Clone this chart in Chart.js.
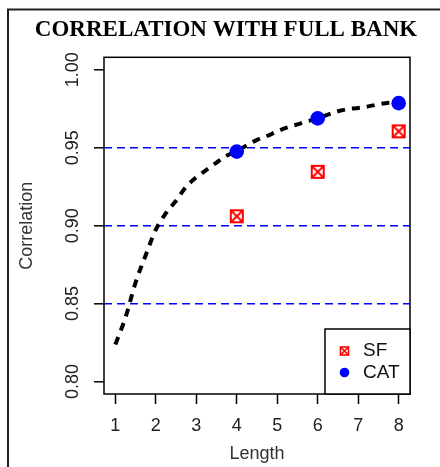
<!DOCTYPE html>
<html>
<head>
<meta charset="utf-8">
<script src="https://cdn.jsdelivr.net/npm/chart.js@4/dist/chart.umd.min.js"></script>
<style>
  html, body { margin:0; padding:0; background:#fff; }
  #wrap { width:440px; height:467px; position:relative; }
</style>
</head>
<body>
<div id="wrap"><canvas id="corrChart" width="440" height="467"></canvas></div>
<script>
// values
const xTicks = [1, 2, 3, 4, 5, 6, 7, 8];
const yTicks = [0.80, 0.85, 0.90, 0.95, 1.00];
const refLines = [0.85, 0.90, 0.95];

const sfX = [4, 6, 8];
const sfY = [0.906, 0.9345, 0.9605];
const catX = [4, 6, 8];
const catY = [0.9475, 0.9688, 0.9786];

const curveX = [1, 1.25, 1.5, 1.75, 2, 2.25, 2.5, 2.75, 3, 3.25, 3.5, 3.75, 4, 4.25, 4.5, 4.75,
                5, 5.25, 5.5, 5.75, 6, 6.25, 6.5, 6.75, 7, 7.25, 7.5, 7.75, 8];
const curveY = [0.8238, 0.841, 0.8635, 0.881, 0.8975, 0.908, 0.916, 0.925, 0.931, 0.9358, 0.9405, 0.9448, 0.948, 0.9515, 0.955, 0.9575,
                0.9605, 0.963, 0.965, 0.967, 0.9688, 0.9712, 0.9734, 0.9748, 0.9755, 0.9765, 0.9778, 0.9788, 0.9792];

const legendLabels = ['SF', 'CAT'];

const toPts = (xs, ys) => xs.map((x, i) => ({x: x, y: ys[i]}));

// red square with an X inside (R pch 7)
function drawBoxX(c, cx, cy, s, lw){
  const h = s / 2;
  c.save();
  c.strokeStyle = '#ff0000';
  c.lineWidth = lw;
  c.strokeRect(cx - h, cy - h, s, s);
  c.beginPath();
  c.moveTo(cx - h, cy - h); c.lineTo(cx + h, cy + h);
  c.moveTo(cx + h, cy - h); c.lineTo(cx - h, cy + h);
  c.stroke();
  c.restore();
}
const sfImg = document.createElement('canvas');
sfImg.width = 16; sfImg.height = 16;
drawBoxX(sfImg.getContext('2d'), 8, 8, 12, 2);

const tickFont = {family: 'Liberation Sans', size: 18};
const titleFont = {family: 'Liberation Sans', size: 18};

const decorPlugin = {
  id: 'decor',
  afterDraw(chart){
    const c = chart.ctx, a = chart.chartArea;
    c.save();
    // outer frame (top-left corner only is visible)
    c.strokeStyle = '#222';
    c.lineWidth = 2;
    c.beginPath();
    c.moveTo(8, 467); c.lineTo(8, 9.5); c.lineTo(440, 9.5);
    c.stroke();
    // plot box
    c.strokeStyle = '#000';
    c.lineWidth = 1.5;
    c.strokeRect(a.left, a.top, a.right - a.left, a.bottom - a.top);
    // legend box
    const lw = 85, lh = 65;
    const lx = a.right - lw, ly = a.bottom - lh;
    c.fillStyle = '#fff';
    c.fillRect(lx, ly, lw, lh);
    c.strokeRect(lx, ly, lw, lh);
    drawBoxX(c, lx + 19.5, ly + 22, 8, 1.6);
    c.fillStyle = '#0000ff';
    c.beginPath(); c.arc(lx + 19.5, ly + 43.5, 4.8, 0, Math.PI * 2); c.fill();
    c.fillStyle = '#111';
    c.font = '19px "Liberation Sans"';
    c.textBaseline = 'middle';
    c.textAlign = 'left';
    c.fillText(legendLabels[0], lx + 38, ly + 22);
    c.fillText(legendLabels[1], lx + 38, ly + 44);
    c.restore();
  }
};

new Chart(document.getElementById('corrChart'), {
  type: 'scatter',
  data: {
    datasets: [
      { label: legendLabels[0], data: toPts(sfX, sfY), pointStyle: sfImg, showLine: false },
      { label: legendLabels[1], data: toPts(catX, catY), pointStyle: 'circle', pointRadius: 7.3,
        backgroundColor: '#0000ff', borderWidth: 0, showLine: false },
      { label: 'fit', data: toPts(curveX, curveY), showLine: true, pointRadius: 0,
        borderColor: '#000', borderWidth: 4, borderDash: [8, 7], cubicInterpolationMode: 'monotone' }
    ]
  },
  options: {
    responsive: false,
    animation: false,
    events: [],
    layout: { padding: { left: 12, right: 0, top: 0, bottom: 0 } },
    plugins: {
      legend: { display: false },
      tooltip: { enabled: false },
      title: {
        display: true,
        text: 'CORRELATION WITH FULL BANK',
        color: '#000',
        font: { family: 'Liberation Serif', size: 23, weight: 'bold' },
        padding: { top: 16, bottom: 13.7 }
      }
    },
    scales: {
      x: {
        type: 'linear', position: 'bottom', min: 0.72, max: 8.28,
        afterBuildTicks: s => { s.ticks = xTicks.map(v => ({value: v})); },
        afterFit: s => { s.height = 73; },
        ticks: { font: tickFont, color: '#222', padding: 11, maxRotation: 0 },
        grid: { drawOnChartArea: false, drawTicks: true, tickLength: 10, tickColor: '#000', tickWidth: 1.5 },
        border: { display: false },
        title: { display: true, text: 'Length', font: titleFont, color: '#333', padding: { top: 0, bottom: 2 } }
      },
      y: {
        type: 'linear', position: 'left', min: 0.792, max: 1.008,
        afterBuildTicks: s => { s.ticks = yTicks.map(v => ({value: v})); },
        afterFit: s => { s.width = 92; },
        ticks: { font: tickFont, color: '#222', padding: 3, minRotation: 90, maxRotation: 90,
                 crossAlign: 'center', callback: v => Number(v).toFixed(2) },
        grid: {
          drawOnChartArea: true,
          color: ctx => (ctx.tick && refLines.some(v => Math.abs(v - ctx.tick.value) < 1e-6)) ? '#0000ff' : 'rgba(0,0,0,0)',
          lineWidth: 1.6,
          tickLength: 10, tickColor: '#000', tickWidth: 1.5, tickBorderDash: []
        },
        border: { display: false, dash: [8, 5] },
        title: { display: true, text: 'Correlation', font: titleFont, color: '#333', padding: { top: 4, bottom: 0 } }
      },
      y2: {
        type: 'linear', position: 'right',
        afterFit: s => { s.width = 30; },
        ticks: { display: false },
        grid: { display: false },
        border: { display: false }
      }
    }
  },
  plugins: [decorPlugin]
});
</script>
</body>
</html>
